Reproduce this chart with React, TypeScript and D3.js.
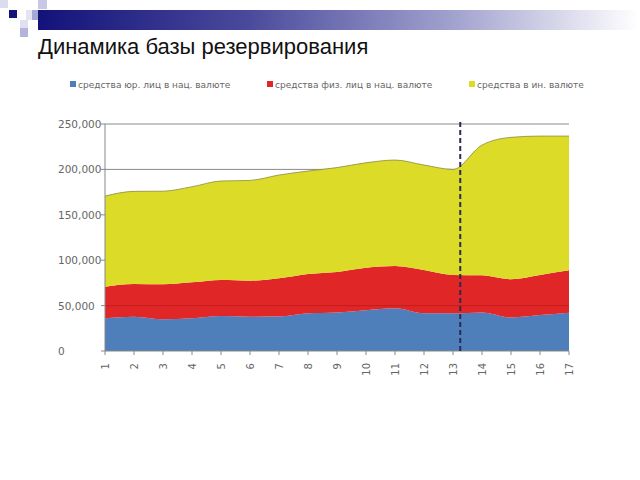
import React from "react";
import * as d3 from "d3";

const periods = [1, 2, 3, 4, 5, 6, 7, 8, 9, 10, 11, 12, 13, 14, 15, 16, 17];
const legalNational = [36000, 37800, 35000, 36000, 38500, 37800, 38000, 41500, 42500, 45000, 47000, 41500, 41500, 42500, 37000, 39600, 42200];
const personalNational = [34800, 36000, 38400, 39600, 39700, 39600, 42000, 43300, 44500, 46700, 46600, 47700, 42200, 40800, 42000, 44100, 46600];
const foreignCurrency = [99800, 102000, 102600, 105300, 109000, 110500, 113800, 113400, 115000, 115600, 116700, 115600, 116300, 143500, 156300, 153000, 147900];
const yTicks = [0, 50000, 100000, 150000, 200000, 250000];
const seriesNames = ["средства юр. лиц в нац. валюте", "средства физ. лиц в нац. валюте", "средства в ин. валюте"];
const seriesColors = ["#4f7fbb", "#e02626", "#dcdc28"];
const markerPeriod = 13.25;

export default function App() {
  const W = 640, H = 480;
  const x = d3.scaleLinear().domain([1, 17]).range([105, 569]);
  const y = d3.scaleLinear().domain([0, 250000]).range([351, 124]);

  const rows = periods.map((p, i) => ({ p, a: legalNational[i], b: personalNational[i], c: foreignCurrency[i] }));
  const stack = d3.stack<any>().keys(["a", "b", "c"])(rows);
  const area = d3.area<any>()
    .x((d) => x(d.data.p))
    .y0((d) => y(d[0]))
    .y1((d) => y(d[1]))
    .curve(d3.curveMonotoneX);
  const topLine = d3.line<any>().x((d) => x(d.data.p)).y((d) => y(d[1])).curve(d3.curveMonotoneX);

  const fmt = d3.format(",");
  const legendX = [70, 267, 469];
  const chartFont = "'DejaVu Sans', Verdana, sans-serif";

  return (
    <svg width={W} height={H} style={{ position: "absolute", left: 0, top: 0, background: "#fff" }} fontFamily="'Liberation Sans', Arial, sans-serif">
      <defs>
        <linearGradient id="hdr" x1="0" x2="1" y1="0" y2="0">
          <stop offset="0" stopColor="#12127a" />
          <stop offset="0.35" stopColor="#4a4a9c" />
          <stop offset="0.7" stopColor="#a4a4d0" />
          <stop offset="1" stopColor="#ffffff" />
        </linearGradient>
      </defs>
      {/* header decoration */}
      <rect x={38} y={10} width={600} height={20} fill="url(#hdr)" />
      <rect x={0} y={0} width={8} height={8} fill="#dcdcf0" />
      <rect x={9} y={10} width={8} height={8} fill="#14147a" />
      <rect x={38} y={0} width={9} height={9} fill="#c8c8e6" />
      <rect x={26} y={10} width={6} height={10} fill="#e4e4f2" />
      <rect x={32} y={10} width={6} height={10} fill="#a8a8d4" />
      <rect x={20} y={20} width={8} height={8} fill="#e0e0f0" />
      <rect x={20} y={28} width={8} height={9} fill="#b4b4da" />

      <text x={38} y={54} fontSize={22} fill="#111">Динамика базы резервирования</text>

      {/* legend */}
      {seriesNames.map((n, i) => (
        <g key={n}>
          <rect x={legendX[i]} y={81} width={6} height={6} fill={seriesColors[i]} />
          <text x={legendX[i] + 8} y={88} fontSize={9} fill="#666" fontFamily={chartFont}>{n}</text>
        </g>
      ))}

      {/* gridlines */}
      {yTicks.filter((t) => t > 0).map((t) => (
        <line key={t} x1={x(1)} x2={x(17)} y1={y(t)} y2={y(t)} stroke="#8a8a8a" strokeWidth={1} />
      ))}

      {/* areas */}
      {stack.map((s, i) => (
        <path key={i} d={area(s) || ""} fill={seriesColors[i]} />
      ))}
      <path d={topLine(stack[2]) || ""} fill="none" stroke="#8a8a40" strokeWidth={0.8} />
      <line x1={x(1)} x2={x(17)} y1={y(50000)} y2={y(50000)} stroke="#b01818" strokeOpacity={0.6} strokeWidth={1} />

      {/* axes */}
      <line x1={x(1)} x2={x(1)} y1={y(250000)} y2={y(0)} stroke="#888" />
      <line x1={x(1)} x2={x(17)} y1={y(0)} y2={y(0)} stroke="#888" />
      {yTicks.map((t) => (
        <g key={t}>
          <line x1={x(1) - 4} x2={x(1)} y1={y(t)} y2={y(t)} stroke="#888" />
          <text x={58} y={y(t) + 4} fontSize={10.5} fill="#666" fontFamily={chartFont}>{fmt(t)}</text>
        </g>
      ))}
      {periods.map((p) => (
        <g key={p}>
          <line x1={x(p)} x2={x(p)} y1={y(0)} y2={y(0) + 4} stroke="#888" />
          <text transform={`translate(${x(p) + 3.5},${y(0) + 12}) rotate(-90)`} textAnchor="end" fontSize={10} fill="#666" fontFamily={chartFont}>{p}</text>
        </g>
      ))}

      {/* marker */}
      <line x1={x(markerPeriod)} x2={x(markerPeriod)} y1={y(250000) - 2} y2={y(0)} stroke="#2a2a55" strokeWidth={2} strokeDasharray="5,3" />
    </svg>
  );
}
